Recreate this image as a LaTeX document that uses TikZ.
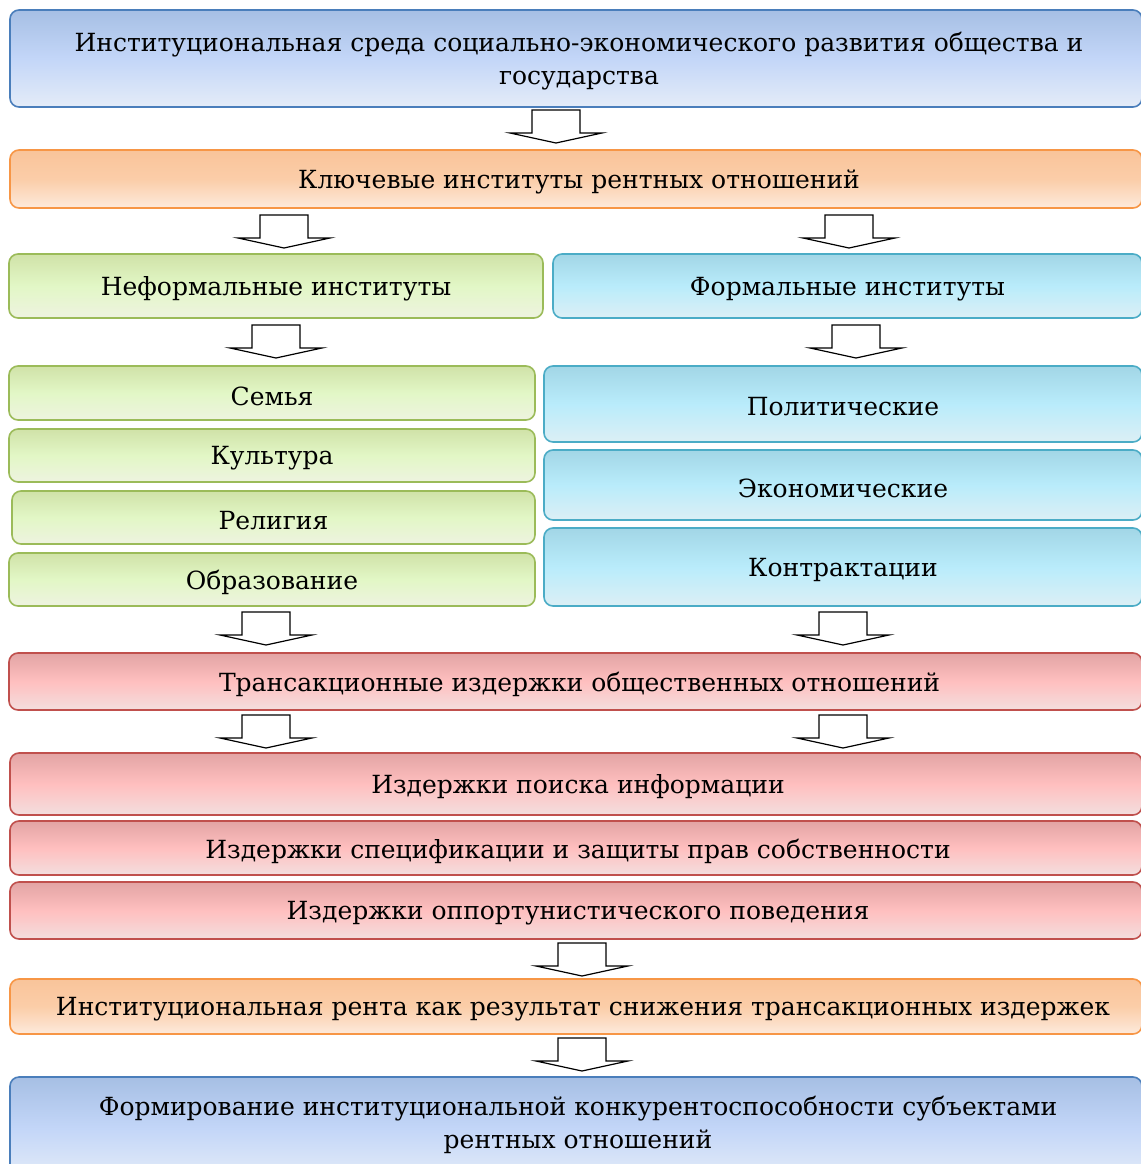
\documentclass[tikz,border=0pt]{standalone}
\usepackage{fontspec}
\setmainfont{DejaVu Serif}
\usetikzlibrary{fit}
\definecolor{bBlue}{HTML}{4A7EBB}
\definecolor{tBlue}{HTML}{A6BFE4}
\definecolor{mBlue}{HTML}{C3D6F8}
\definecolor{lBlue}{HTML}{E4ECF8}
\definecolor{bOr}{HTML}{F79646}
\definecolor{tOr}{HTML}{F9C49A}
\definecolor{mOr}{HTML}{FBCDA8}
\definecolor{lOr}{HTML}{FDEADC}
\definecolor{bGr}{HTML}{9BBB59}
\definecolor{tGr}{HTML}{D0E2A8}
\definecolor{mGr}{HTML}{E2F7C6}
\definecolor{lGr}{HTML}{EEF3E0}
\definecolor{bCy}{HTML}{4BACC6}
\definecolor{tCy}{HTML}{A2D6E6}
\definecolor{mCy}{HTML}{B9ECFB}
\definecolor{lCy}{HTML}{DCEFF5}
\definecolor{bRd}{HTML}{C0504D}
\definecolor{tRd}{HTML}{E2A4A4}
\definecolor{mRd}{HTML}{FFBFBF}
\definecolor{lRd}{HTML}{F3DEDE}
\tikzset{
  x=1pt, y=-1pt,
  box/.style={line width=1.6pt, rounded corners=9pt, inner sep=0pt},
  bluebox/.style={box, draw=bBlue, top color=tBlue, bottom color=lBlue, middle color=mBlue},
  orbox/.style={box, draw=bOr, top color=tOr, bottom color=lOr, middle color=mOr},
  grbox/.style={box, draw=bGr, top color=tGr, bottom color=lGr, middle color=mGr},
  cybox/.style={box, draw=bCy, top color=tCy, bottom color=lCy, middle color=mCy},
  rdbox/.style={box, draw=bRd, top color=tRd, bottom color=lRd, middle color=mRd},
  lbl/.style={font=\fontsize{25}{33}\selectfont, align=center, text=black, inner sep=0pt, yshift=-3pt},
  blockarrow/.style={draw=black, fill=white, line width=1.2pt, line join=miter},
}
\newcommand\barrow[1]{%
  \draw[blockarrow] (#1) ++(-24,0) -- ++(48,0) -- ++(0,23) -- ++(22,0)
    -- ++(-46,10) -- ++(-46,-10) -- ++(22,0) -- cycle;}
\begin{document}
\begin{tikzpicture}
\useasboundingbox (0,0) rectangle (1140,1164);
% boxes
\node[bluebox, fit={(10,10) (1142,107)}] (top) {};
\node[lbl] (toptext) at (579,58)
  {Институциональная среда социально-экономического развития общества и\\государства};
\node[orbox, fit={(10,150) (1142,208)}] (key) {};
\node[lbl, xshift=3pt] at (key.center) {Ключевые институты рентных отношений};
\node[grbox, fit={(9,254) (543,318)}] (nef) {};
\node[lbl] at (nef.center) {Неформальные институты};
\node[cybox, fit={(553,254) (1142,318)}] (form) {};
\node[lbl] at (form.center) {Формальные институты};
\node[grbox, fit={(9,366) (535,420)}] (sem) {};
\node[lbl] at (sem.center) {Семья};
\node[grbox, fit={(9,429) (535,482)}] (kul) {};
\node[lbl] at (kul.center) {Культура};
\node[grbox, fit={(12,491) (535,544)}] (rel) {};
\node[lbl] at (rel.center) {Религия};
\node[grbox, fit={(9,553) (535,606)}] (obr) {};
\node[lbl] at (obr.center) {Образование};
\node[cybox, fit={(544,366) (1142,442)}] (pol) {};
\node[lbl] at (pol.center) {Политические};
\node[cybox, fit={(544,450) (1142,520)}] (eko) {};
\node[lbl] at (eko.center) {Экономические};
\node[cybox, fit={(544,528) (1142,606)}] (kon) {};
\node[lbl] at (kon.center) {Контрактации};
\node[rdbox, fit={(9,653) (1142,710)}] (tr) {};
\node[lbl, xshift=4pt] at (tr.center) {Трансакционные издержки общественных отношений};
\node[rdbox, fit={(10,753) (1142,815)}] (poisk) {};
\node[lbl, xshift=2pt] at (poisk.center) {Издержки поиска информации};
\node[rdbox, fit={(10,821) (1142,875)}] (spec) {};
\node[lbl, xshift=2pt] at (spec.center) {Издержки спецификации и защиты прав собственности};
\node[rdbox, fit={(10,882) (1142,939)}] (opp) {};
\node[lbl, xshift=2pt] at (opp.center) {Издержки оппортунистического поведения};
\node[orbox, fit={(10,979) (1142,1034)}] (rent) {};
\node[lbl, xshift=7pt] at (rent.center) {Институциональная рента как результат снижения трансакционных издержек};
\node[bluebox, fit={(10,1077) (1142,1180)}] (fin) {};
\node[lbl] (fintext) at (578,1122)
  {Формирование институциональной конкурентоспособности субъектами\\рентных отношений};
% arrows
\coordinate (a1) at (556,110);
\coordinate (a2l) at (284,215); \coordinate (a2r) at (849,215);
\coordinate (a3l) at (276,325); \coordinate (a3r) at (856,325);
\coordinate (a4l) at (266,612); \coordinate (a4r) at (843,612);
\coordinate (a5l) at (266,715); \coordinate (a5r) at (843,715);
\coordinate (a6) at (582,943);
\coordinate (a7) at (582,1038);
\barrow{a1}
\barrow{a2l}\barrow{a2r}
\barrow{a3l}\barrow{a3r}
\barrow{a4l}\barrow{a4r}
\barrow{a5l}\barrow{a5r}
\barrow{a6}\barrow{a7}
\end{tikzpicture}
\end{document}
